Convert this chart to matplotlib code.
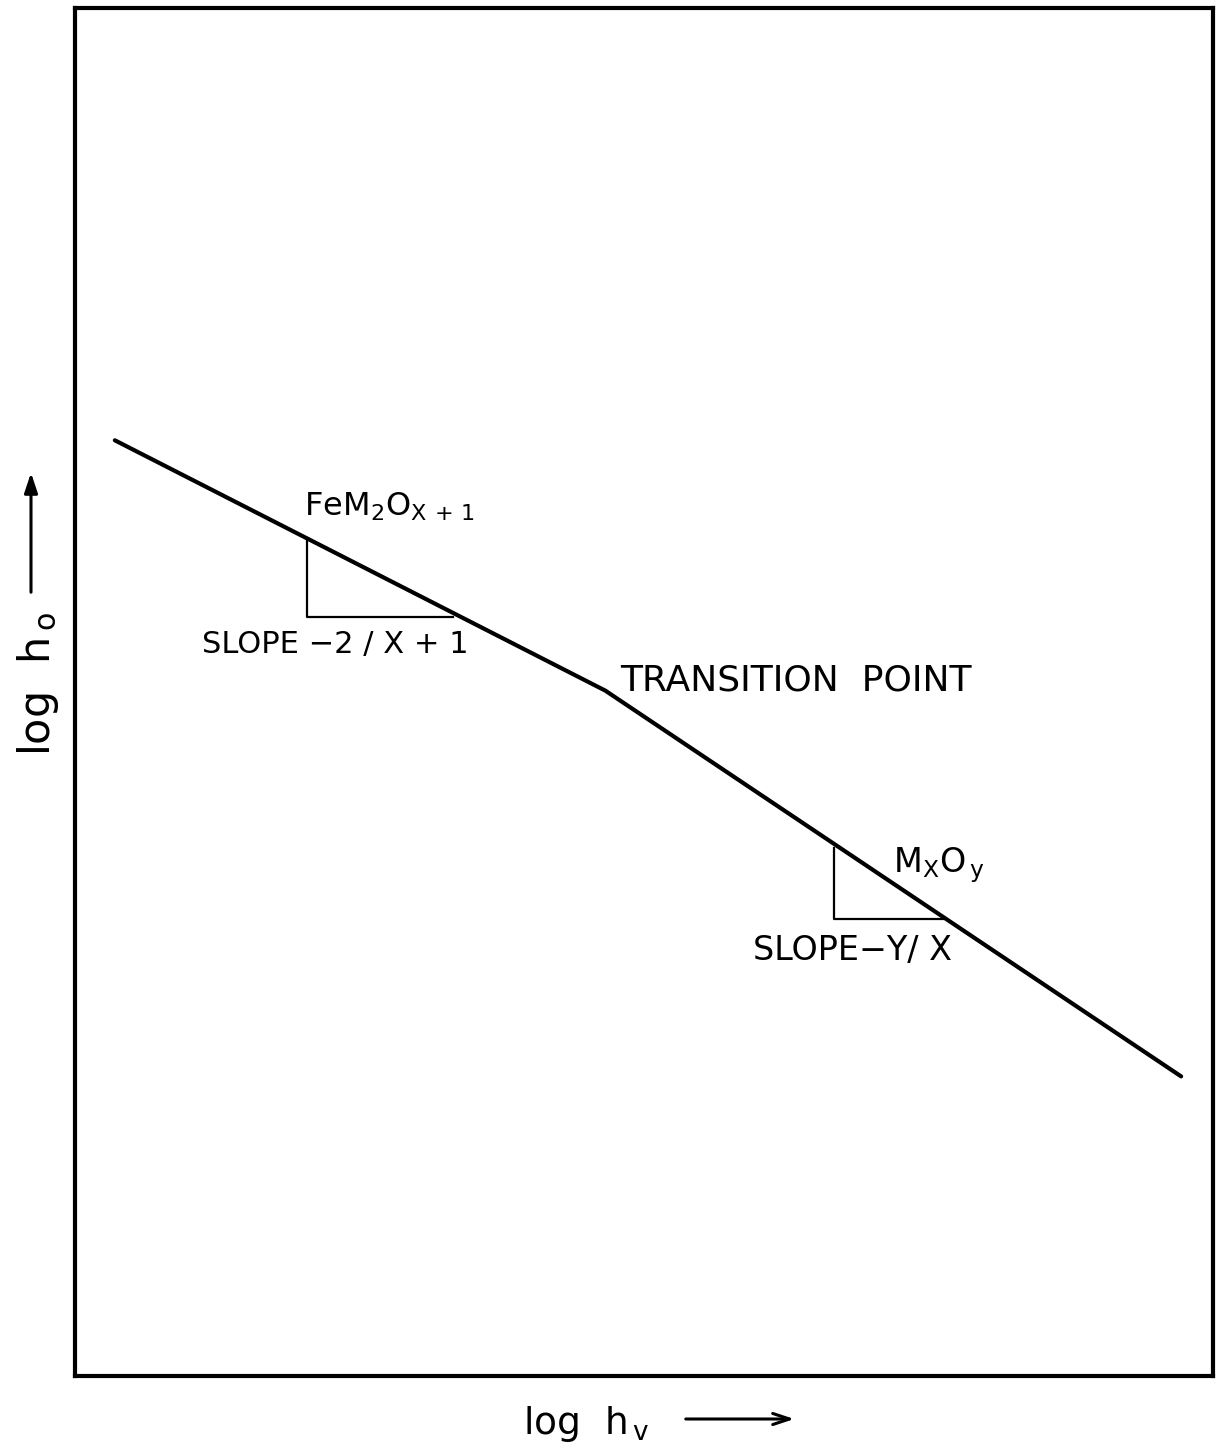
import numpy as np
import matplotlib
matplotlib.use('Agg')
import matplotlib.pyplot as plt
from matplotlib.patches import FancyArrowPatch

# === Schematic data (arbitrary units) ===
line_x = [3.5, 46.6, 97.2]
line_y = [68.4, 50.1, 21.9]

# slope triangles: vertical leg x, top y, bottom y, right end x
tri1_x = [20.4, 20.4, 33.2]
tri1_y = [61.1, 55.5, 55.5]
tri2_x = [66.7, 66.7, 76.3]
tri2_y = [38.6, 33.4, 33.4]

# label x, baseline y, text, size
labels = [
    (20.1, 62.9, r'FeM$_{\mathregular{2}}$O$_{\mathregular{X\,+\,1}}$', 23),
    (11.2, 52.85, 'SLOPE \u22122 / X + 1', 22),
    (47.9, 50.1, 'TRANSITION  POINT', 26),
    (71.9, 36.8, r'M$_{\mathregular{X}}$O$_{\,\mathregular{y}}$', 24),
    (59.6, 30.4, 'SLOPE\u2212Y/ X', 24),
]

plt.rcParams['font.family'] = ['DejaVu Sans']
plt.rcParams['mathtext.fontset'] = 'dejavusans'

W, H = 1224, 1454
fig = plt.figure(figsize=(W / 100, H / 100), dpi=100)
ax = fig.add_axes([75 / W, 78 / H, 1138 / W, 1368 / H])
ax.set_xlim(0, 100)
ax.set_ylim(0, 100)
ax.set_xticks([])
ax.set_yticks([])
for sp in ax.spines.values():
    sp.set_linewidth(3.0)

ax.plot(line_x, line_y, color='black', lw=3.0, solid_capstyle='round')
ax.plot(tri1_x, tri1_y, color='black', lw=1.6)
ax.plot(tri2_x, tri2_y, color='black', lw=1.6)

for x, y, s, fs in labels:
    ax.text(x, y, s, fontsize=fs, ha='left', va='baseline')

# axis labels with arrows
fig.text(38 / W, 1 - 684 / H, r'log  h$_{\,\mathregular{o}}$', rotation=90,
         fontsize=31, ha='center', va='center')
fig.text(586 / W, 1 - 1424 / H, r'log  h$_{\,\mathregular{v}}$',
         fontsize=27, ha='center', va='center')

fig.add_artist(FancyArrowPatch(
    (31 / W, 1 - 595 / H), (31 / W, 1 - 470 / H), transform=fig.transFigure,
    arrowstyle='-|>,head_length=12,head_width=4', lw=2.2, color='black'))
fig.add_artist(FancyArrowPatch(
    (683 / W, 1 - 1419 / H), (797 / W, 1 - 1419 / H), transform=fig.transFigure,
    arrowstyle='->,head_length=12,head_width=4', lw=2.2, color='black'))

plt.savefig('out.png', dpi=100, facecolor='white')
